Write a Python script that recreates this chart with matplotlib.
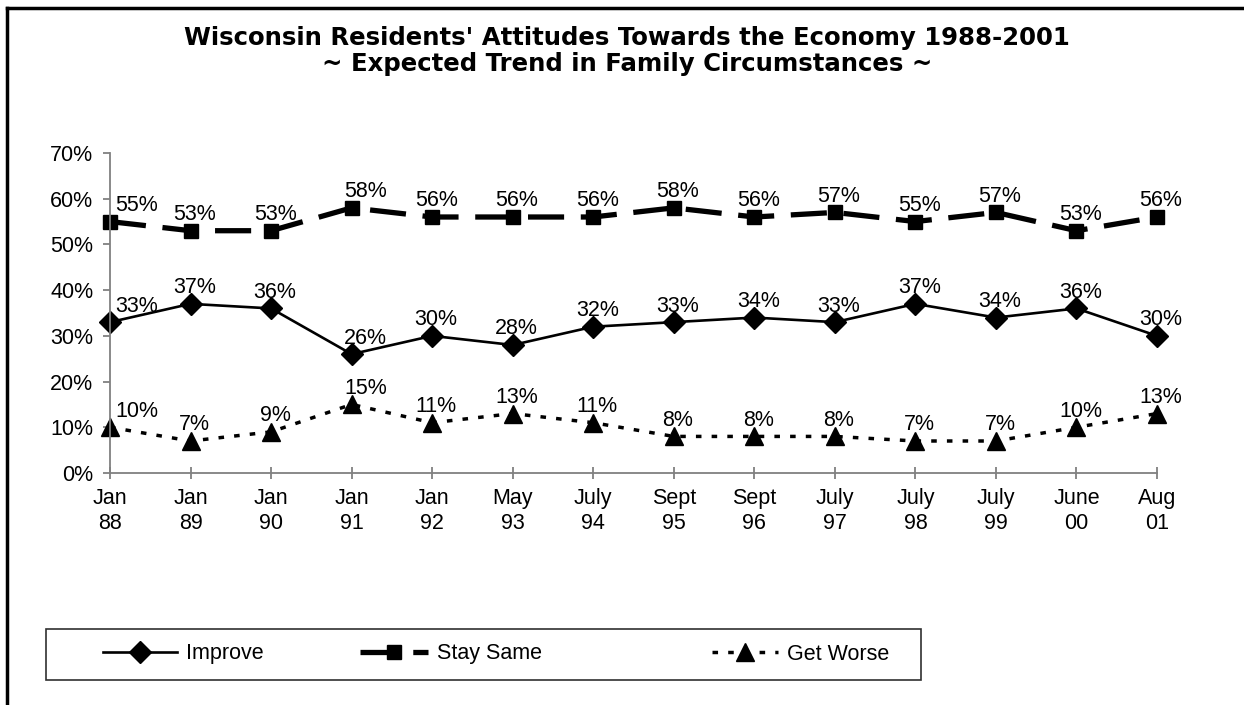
import matplotlib
matplotlib.use("Agg")
import matplotlib.pyplot as plt
from matplotlib.lines import Line2D
from matplotlib.patches import Rectangle

plt.rcParams['font.family'] = ['Liberation Sans', 'DejaVu Sans']
plt.rcParams['lines.scale_dashes'] = False

categories = ["Jan\n88", "Jan\n89", "Jan\n90", "Jan\n91", "Jan\n92", "May\n93", "July\n94",
              "Sept\n95", "Sept\n96", "July\n97", "July\n98", "July\n99", "June\n00", "Aug\n01"]
improve = [33, 37, 36, 26, 30, 28, 32, 33, 34, 33, 37, 34, 36, 30]
stay_same = [55, 53, 53, 58, 56, 56, 56, 58, 56, 57, 55, 57, 53, 56]
get_worse = [10, 7, 9, 15, 11, 13, 11, 8, 8, 8, 7, 7, 10, 13]
yticks = [0, 10, 20, 30, 40, 50, 60, 70]

W, H = 1244, 705
fig = plt.figure(figsize=(W / 100, H / 100), dpi=100)
ax = fig.add_axes([110 / W, 1 - 473 / H, (1157 - 110) / W, (473 - 153) / H])

x = list(range(len(categories)))
FS = 15.5

l1, = ax.plot(x, improve, color='black', lw=1.9, marker='D', ms=11, clip_on=False,
              solid_joinstyle='miter')
l2, = ax.plot(x, stay_same, color='black', lw=3.8, marker='s', ms=10, clip_on=False,
              dashes=(26, 12), dash_capstyle='butt')
l3, = ax.plot(x, get_worse, color='black', lw=2.5, marker='^', ms=12.5, clip_on=False,
              dashes=(4, 7.3), dash_capstyle='butt')

for series in (improve, stay_same, get_worse):
    for i, v in enumerate(series):
        dx = 27 if i == 0 else (14 if i == 3 else 4)
        ax.annotate(f"{v}%", (i, v), xytext=(dx, 16), textcoords='offset pixels',
                    ha='center', va='center', fontsize=FS, color='black')

ax.set_xlim(0, len(categories) - 1)
ax.set_ylim(0, 70)
ax.set_yticks(yticks)
ax.set_yticklabels([f"{t}%" for t in yticks], fontsize=FS)
ax.set_xticks(x)
ax.set_xticklabels(categories, fontsize=FS, linespacing=1.25)
for s in ('top', 'right'):
    ax.spines[s].set_visible(False)
for s in ('left', 'bottom'):
    ax.spines[s].set_color('#808080')
    ax.spines[s].set_linewidth(1.3)
ax.tick_params(axis='y', direction='out', length=5, color='#808080', width=1.3, pad=7)
ax.tick_params(axis='x', direction='inout', length=9, color='#808080', width=1.3, pad=6)
ax.patch.set_alpha(0)

fig.text(627 / W, 1 - 26 / H,
         "Wisconsin Residents' Attitudes Towards the Economy 1988-2001\n~ Expected Trend in Family Circumstances ~",
         ha='center', va='top', fontsize=17.6, fontweight='bold', linespacing=1.1,
         family=['DejaVu Sans'])

# legend frame
fig.patches.append(Rectangle((46 / W, 1 - 680 / H), (921 - 46) / W, (680 - 629) / H,
                             transform=fig.transFigure, fill=False, edgecolor='#303030', lw=1.2))
ly = 1 - 654 / H
for line, lab, hx, hl in ((l1, 'Improve', 103, 74), (l2, 'Stay Same', 360, 68), (l3, 'Get Worse', 712, 66)):
    leg = fig.legend([line], [lab], loc='center left', bbox_to_anchor=(hx / W, ly),
                     frameon=False, fontsize=FS, borderpad=0, borderaxespad=0,
                     handlelength=hl / 21.5, handletextpad=0.4, markerscale=1.0)

# figure border (left and top)
fig.add_artist(Line2D([7 / W, 7 / W], [0, 1 - 8 / H], transform=fig.transFigure, color='black', lw=2.5))
fig.add_artist(Line2D([7 / W, 1], [1 - 8 / H, 1 - 8 / H], transform=fig.transFigure, color='black', lw=2.5))

fig.savefig("out.png", dpi=100)
